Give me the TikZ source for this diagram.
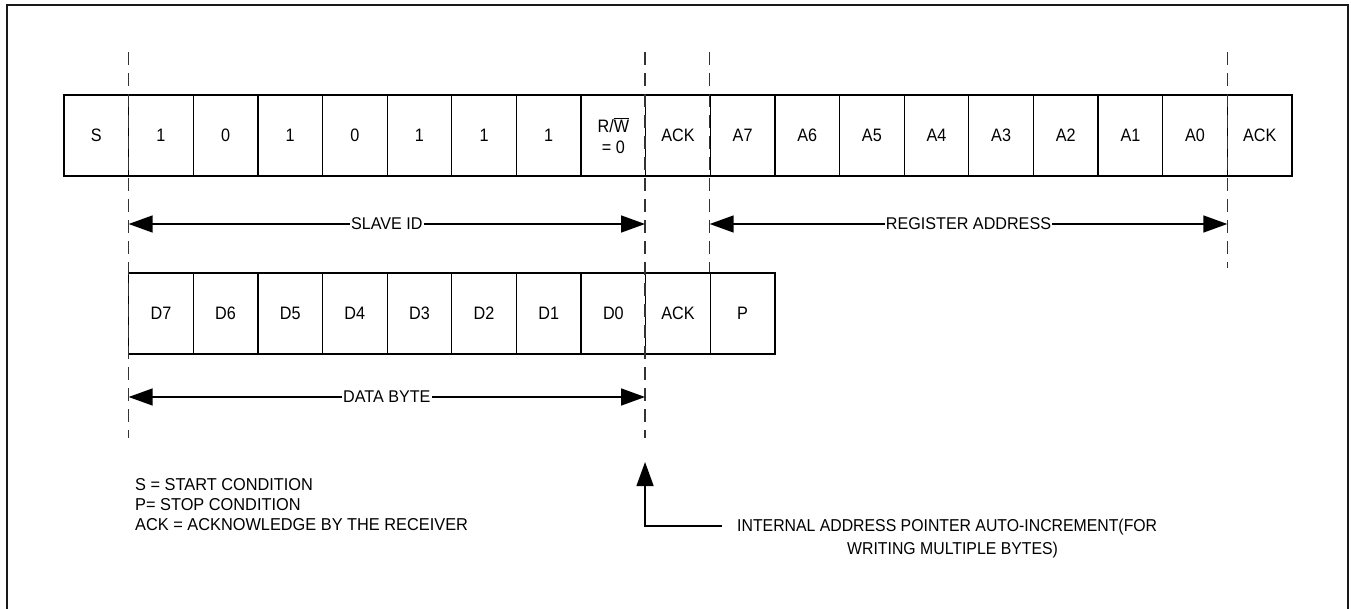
\documentclass[tikz,border=0pt]{standalone}
\usepackage{fontspec}
\setmainfont{Liberation Sans}[FakeStretch=0.92]
\newfontfamily\cellfont{Liberation Sans}[FakeStretch=0.9]
\newfontfamily\legfont{Liberation Sans}[FakeStretch=0.95]
\usetikzlibrary{arrows.meta}
\begin{document}
\begin{tikzpicture}[x=1pt,y=-1pt,
  cell/.style={draw=black, line width=1.3pt, minimum width=64.63pt, minimum height=81pt,
    inner sep=0pt, outer sep=0pt, anchor=north west, align=center,
    font=\cellfont\fontsize{18}{21}\selectfont},
  guide/.style={draw=black!80, line width=1.5pt, dash pattern=on 13pt off 8pt},
  dim/.style={draw=black, line width=1.4pt,
    {Triangle[length=24pt,width=17pt]}-{Triangle[length=24pt,width=17pt]}},
  lbl/.style={fill=white, inner sep=1pt, font=\legfont\fontsize{17}{20}\selectfont},
  txt/.style={anchor=west, inner sep=0pt, font=\legfont\fontsize{17.2}{20}\selectfont},
  ptxt/.style={anchor=west, inner sep=0pt, font=\fontsize{17.2}{20}\selectfont},
  frame/.style={draw=black!90, line width=2pt}
]
\useasboundingbox (0,0) rectangle (1351,609);
% outer frame
\draw[frame] (7,640) -- (7,5) -- (1348,5) -- (1348,640);

% top row
\foreach \t [count=\i from 0] in {S,1,0,1,0,1,1,1,{R/$\overline{\hbox{W}}$\\= 0},ACK,A7,A6,A5,A4,A3,A2,A1,A0,ACK}{
  \node[cell] (top\i) at ({64+\i*64.63},95) {\t};
}
% second row
\foreach \t [count=\i from 1] in {D7,D6,D5,D4,D3,D2,D1,D0,ACK,P}{
  \node[cell] (bot\i) at ({64+\i*64.63},273) {\t};
}

% guide lines
\coordinate (g1t) at (128.63,52);  \coordinate (g1b) at (128.63,438);
\coordinate (g2t) at (645.04,52);  \coordinate (g2b) at (645.04,438);
\coordinate (g3t) at (709.67,52);  \coordinate (g3b) at (709.67,272);
\coordinate (g4t) at (1227.34,52); \coordinate (g4b) at (1227.34,268);
\draw[guide] (g1t) -- (g1b);
\draw[guide] (g2t) -- (g2b);
\draw[guide] (g3t) -- (g3b);
\draw[guide] (g4t) -- (g4b);

% dimension arrows
\coordinate (sidL) at (128.63,224); \coordinate (sidR) at (645.04,224);
\coordinate (regL) at (709.67,224); \coordinate (regR) at (1227.34,224);
\coordinate (datL) at (128.63,397); \coordinate (datR) at (645.04,397);
\draw[dim] (sidL) -- node[lbl] (lslave) {SLAVE ID} (sidR);
\draw[dim] (regL) -- node[lbl] (lreg) {REGISTER ADDRESS} (regR);
\draw[dim] (datL) -- node[lbl] (ldata) {DATA BYTE} (datR);

% pointer arrow
\coordinate (ptrS) at (722,526);
\coordinate (ptrT) at (645.04,462);
\draw[line width=1.4pt, -{Triangle[length=24pt,width=17pt]}] (ptrS) -| (ptrT);
\node[ptxt] (int1) at (737,527) {INTERNAL ADDRESS POINTER AUTO-INCREMENT(FOR};
\node[ptxt] (int2) at (847,550) {WRITING MULTIPLE BYTES)};

% legend
\node[txt] (leg1) at (135,485) {S = START CONDITION};
\node[txt] (leg2) at (135,505) {P= STOP CONDITION};
\node[txt] (leg3) at (135,525) {ACK = ACKNOWLEDGE BY THE RECEIVER};
\end{tikzpicture}
\end{document}
